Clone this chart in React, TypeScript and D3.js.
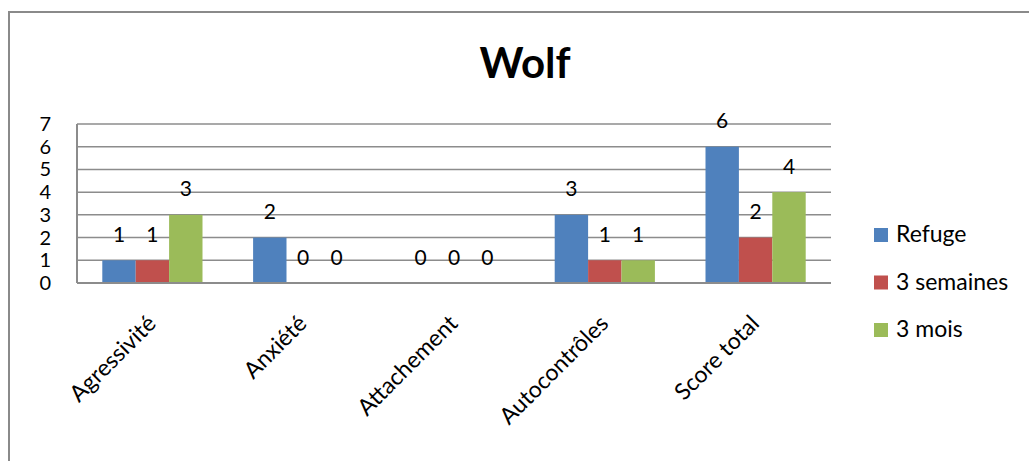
import { useEffect, useRef } from 'react'
import * as d3 from 'd3'

const categories = ['Agressivité', 'Anxiété', 'Attachement', 'Autocontrôles', 'Score total']
const seriesNames = ['Refuge', '3 semaines', '3 mois']
const refuge = [1, 2, 0, 3, 6]
const semaines = [1, 0, 0, 1, 2]
const mois = [3, 0, 0, 1, 4]
const yTicks = [0, 1, 2, 3, 4, 5, 6, 7]
const colors = ['#4F81BD', '#C0504D', '#9BBB59']

const W = 1029
const H = 461
const FONT = 'Lato, "Open Sans", sans-serif'

export default function App() {
  const svgRef = useRef<SVGSVGElement | null>(null)

  useEffect(() => {
    const svgEl = svgRef.current
    if (!svgEl) return
    const svg = d3.select(svgEl)
    svg.selectAll('*').remove()

    const plot = { left: 77, right: 831, top: 124, bottom: 283 }
    const values = [refuge, semaines, mois]

    // outer chart border (runs off right/bottom edge)
    svg
      .append('rect')
      .attr('x', 9)
      .attr('y', 12)
      .attr('width', W + 20)
      .attr('height', H + 20)
      .attr('fill', '#fff')
      .attr('stroke', '#8a8a8a')
      .attr('stroke-width', 2)

    svg
      .append('text')
      .attr('x', 525)
      .attr('y', 78)
      .attr('text-anchor', 'middle')
      .attr('font-family', FONT)
      .attr('font-weight', 'bold')
      .attr('font-size', 42)
      .attr('fill', '#000')
      .text('Wolf')

    const x0 = d3.scaleBand().domain(categories).range([plot.left, plot.right]).paddingInner(0).paddingOuter(0)
    const barW = x0.bandwidth() * (100.2 / 150.8) / 3
    const x1 = d3
      .scaleBand()
      .domain(seriesNames)
      .range([(x0.bandwidth() - barW * 3) / 2, (x0.bandwidth() + barW * 3) / 2])
    const y = d3.scaleLinear().domain([0, 7]).range([plot.bottom, plot.top])

    // gridlines
    svg
      .append('g')
      .selectAll('line')
      .data(yTicks.filter((t) => t > 0))
      .enter()
      .append('line')
      .attr('x1', plot.left)
      .attr('x2', plot.right)
      .attr('y1', (d) => y(d))
      .attr('y2', (d) => y(d))
      .attr('stroke', '#8c8c8c')
      .attr('stroke-width', 1.5)

    // y labels
    svg
      .append('g')
      .selectAll('text')
      .data(yTicks)
      .enter()
      .append('text')
      .attr('x', 51)
      .attr('y', (d) => y(d) + 7)
      .attr('text-anchor', 'end')
      .attr('font-family', FONT)
      .attr('font-size', 20)
      .attr('fill', '#000')
      .text((d) => String(d))

    // bars
    const groups = svg
      .append('g')
      .selectAll('g')
      .data(categories)
      .enter()
      .append('g')
      .attr('transform', (d) => `translate(${x0(d)},0)`)

    groups
      .selectAll('rect')
      .data((_, i) => seriesNames.map((s, k) => ({ s, k, v: values[k][i] })))
      .enter()
      .append('rect')
      .attr('x', (d) => x1(d.s) ?? 0)
      .attr('width', x1.bandwidth())
      .attr('y', (d) => y(d.v))
      .attr('height', (d) => y(0) - y(d.v))
      .attr('fill', (d) => colors[d.k])

    groups
      .selectAll('text')
      .data((_, i) => seriesNames.map((s, k) => ({ s, k, v: values[k][i] })))
      .enter()
      .append('text')
      .attr('x', (d) => (x1(d.s) ?? 0) + x1.bandwidth() / 2)
      .attr('y', (d) => y(d.v) - 18.5)
      .attr('text-anchor', 'middle')
      .attr('font-family', FONT)
      .attr('font-size', 21)
      .attr('fill', '#000')
      .text((d) => String(d.v))

    // axes lines
    svg
      .append('line')
      .attr('x1', plot.left)
      .attr('x2', plot.left)
      .attr('y1', plot.top)
      .attr('y2', plot.bottom)
      .attr('stroke', '#8c8c8c')
      .attr('stroke-width', 2)
    svg
      .append('line')
      .attr('x1', plot.left)
      .attr('x2', plot.right)
      .attr('y1', plot.bottom)
      .attr('y2', plot.bottom)
      .attr('stroke', '#8c8c8c')
      .attr('stroke-width', 2)

    // category labels, rotated
    svg
      .append('g')
      .selectAll('text')
      .data(categories)
      .enter()
      .append('text')
      .attr('transform', (d) => `translate(${(x0(d) ?? 0) + x0.bandwidth() / 2 + 5},${325}) rotate(-45)`)
      .attr('text-anchor', 'end')
      .attr('font-family', FONT)
      .attr('font-size', 23)
      .attr('fill', '#000')
      .text((d) => d)

    // legend
    const legend = svg
      .append('g')
      .selectAll('g')
      .data(seriesNames)
      .enter()
      .append('g')
      .attr('transform', (_, i) => `translate(874,${228 + i * 47.5})`)
    legend.append('rect').attr('width', 14).attr('height', 14).attr('fill', (_, i) => colors[i])
    legend
      .append('text')
      .attr('x', 22)
      .attr('y', 14)
      .attr('font-family', FONT)
      .attr('font-size', 23)
      .attr('fill', '#000')
      .text((d) => d)
  }, [])

  return (
    <svg
      ref={svgRef}
      width={W}
      height={H}
      style={{ position: 'absolute', left: 0, top: 0, background: '#fff' }}
    />
  )
}
